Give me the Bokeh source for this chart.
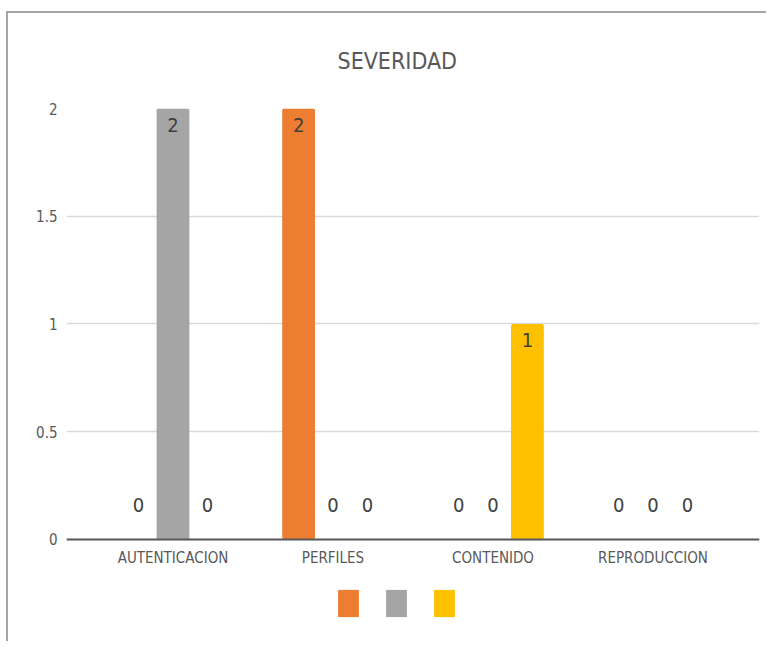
from bokeh.plotting import figure
from bokeh.models import ColumnDataSource, FactorRange, Range1d, FixedTicker, Legend, LegendItem, Span
from bokeh.transform import dodge
from bokeh.core.properties import value
from bokeh.embed import file_html
from bokeh.resources import INLINE

# ---- data ----
categories = ["AUTENTICACION", "PERFILES", "CONTENIDO", "REPRODUCCION"]
serie1 = [0, 2, 0, 0]   # orange
serie2 = [2, 0, 0, 0]   # gray
serie3 = [0, 0, 1, 0]   # yellow
series = [serie1, serie2, serie3]
legend_labels = ["", "", ""]   # legend entries have no visible names
y_ticks = [0, 0.5, 1, 1.5, 2]
y_tick_labels = ["0", "0.5", "1", "1.5", "2"]
title_text = "SEVERIDAD"

# ---- styles ----
colors = ["#ED7D31", "#A5A5A5", "#FFC000"]
offsets = [-0.215, 0.0, 0.215]
FONT = "DejaVu Sans Condensed"
TXT = "#595959"
Y_LOW = -0.4223   # room below the baseline for category names and legend

p = figure(
    x_range=FactorRange(*categories, range_padding=0.0828),
    y_range=Range1d(Y_LOW, 2),
    width=760, height=630,
    output_backend="svg", toolbar_location=None,
    min_border_left=58, min_border_right=9, min_border_top=95, min_border_bottom=13,
)
p.margin = (11, 0, 0, 6)
p.styles = {"border-left": "2px solid #A6A6A6", "border-top": "2px solid #A6A6A6"}
p.outline_line_color = None
p.background_fill_color = "white"
p.border_fill_color = "white"

p.title.text = title_text
p.title.align = "left"
p.title.vertical_align = "top"
p.title.text_font = FONT
p.title.text_font_size = "23px"
p.title.text_font_style = "normal"
p.title.text_color = TXT
p.title.standoff = 66
p.title.offset = 271

renderers = []
for vals, col, off in zip(series, colors, offsets):
    src = ColumnDataSource(dict(cat=categories, val=vals))
    r = p.vbar(x=dodge("cat", off, range=p.x_range), top="val", bottom=0, width=0.205,
               source=src, fill_color=col, line_color=None, border_radius=2)
    renderers.append(r)
    nz = [(c, v) for c, v in zip(categories, vals) if v != 0]
    z = [(c, v) for c, v in zip(categories, vals) if v == 0]
    if nz:
        s1 = ColumnDataSource(dict(cat=[a for a, _ in nz], val=[b for _, b in nz],
                                   lab=[str(b) for _, b in nz]))
        p.text(x=dodge("cat", off, range=p.x_range), y="val", text="lab", source=s1,
               text_align="center", text_baseline="top", y_offset=9,
               text_font=value(FONT), text_font_size="20px", text_color="#404040")
    if z:
        s0 = ColumnDataSource(dict(cat=[a for a, _ in z], val=[b for _, b in z],
                                   lab=[str(b) for _, b in z]))
        p.text(x=dodge("cat", off, range=p.x_range), y="val", text="lab", source=s0,
               text_align="center", text_baseline="bottom", y_offset=-27,
               text_font=value(FONT), text_font_size="20px", text_color="#404040")

# category axis: baseline line + category names under it
p.add_layout(Span(location=0, dimension="width", line_color="#595959", line_width=2))
cat_src = ColumnDataSource(dict(cat=categories, base=[0] * len(categories)))
p.text(x="cat", y="base", text="cat", source=cat_src, text_align="center",
       text_baseline="top", y_offset=10, text_font=value(FONT),
       text_font_size="15px", text_color=TXT)
p.xaxis.visible = False
p.xgrid.grid_line_color = None

p.yaxis.ticker = FixedTicker(ticks=y_ticks)
p.yaxis.major_label_overrides = {t: l for t, l in zip(y_ticks, y_tick_labels)}
p.yaxis.axis_line_color = None
p.yaxis.major_tick_line_color = None
p.yaxis.minor_tick_line_color = None
p.yaxis.major_label_text_font = FONT
p.yaxis.major_label_text_font_size = "15px"
p.yaxis.major_label_text_color = TXT
p.yaxis.major_label_standoff = 3
p.ygrid.grid_line_color = "#D9D9D9"
p.ygrid.grid_line_width = 1.5

legend = Legend(
    items=[LegendItem(label=value(l), renderers=[r]) for l, r in zip(legend_labels, renderers)],
    orientation="horizontal", location=(269, 10),
    glyph_width=26, glyph_height=34, label_width=1, label_height=34,
    label_standoff=0, spacing=21, padding=0, margin=0,
    border_line_color=None, background_fill_alpha=0,
)
p.add_layout(legend, "center")

open("out.html", "w").write(file_html(p, INLINE))
